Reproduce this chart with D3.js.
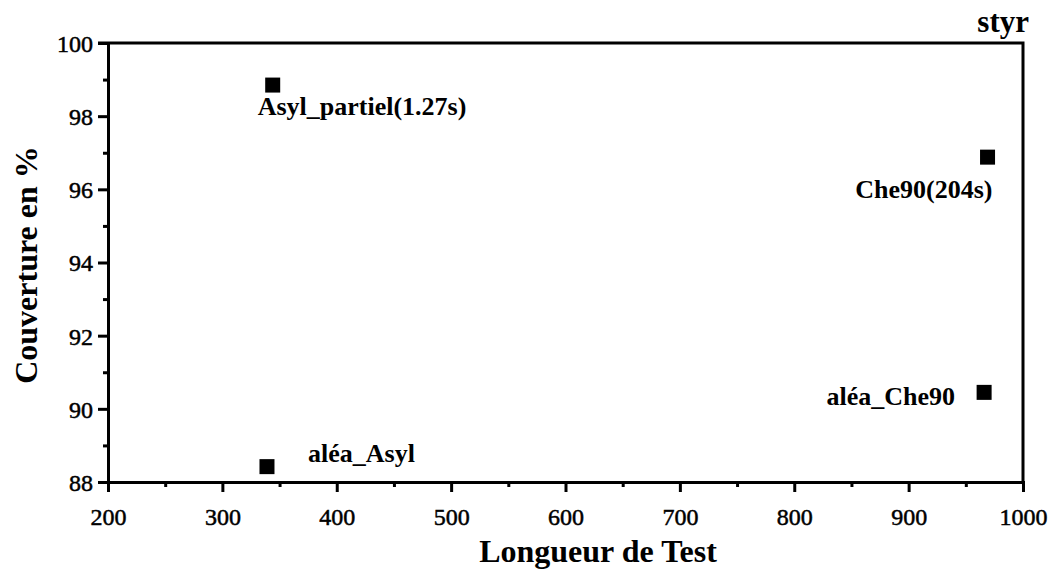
<!DOCTYPE html>
<html><head><meta charset="utf-8">
<script src="https://cdn.jsdelivr.net/npm/d3@7"></script>
<style>body{margin:0;background:#fff}svg{display:block}text{font-family:"Liberation Serif","Times New Roman",serif}</style>
</head><body><svg id="c" width="1055" height="570"></svg>
<script>
const names = ["Asyl_partiel(1.27s)", "Che90(204s)", "aléa_Che90", "aléa_Asyl"];
const xVals = [344, 969, 966, 339];
const yVals = [98.85, 96.88, 90.45, 88.42];
const xTicks = [200, 300, 400, 500, 600, 700, 800, 900, 1000];
const yTicks = [88, 90, 92, 94, 96, 98, 100];
const title = "styr";
const xTitle = "Longueur de Test";
const yTitle = "Couverture en %";

const svg = d3.select("#c");
const L = 108, R = 1023, T = 43, B = 482;
const x = d3.scaleLinear().domain([200, 1000]).range([L, R]);
const y = d3.scaleLinear().domain([88, 100]).range([B, T]);

// frame (top & right)
svg.append("path").attr("d", `M${L-10},${T}H${R}V${B}`).attr("fill","none").attr("stroke","#000").attr("stroke-width",3);

// x axis
const xa = svg.append("g").attr("transform",`translate(0,${B})`)
  .call(d3.axisBottom(x).tickValues(xTicks).tickSize(10).tickFormat(d3.format("d")));
const xm = svg.append("g").attr("transform",`translate(0,${B})`)
  .call(d3.axisBottom(x).tickValues(d3.range(250,1000,100)).tickSize(5).tickFormat(""));
// y axis
const ya = svg.append("g").attr("transform",`translate(${L},0)`)
  .call(d3.axisLeft(y).tickValues(yTicks).tickSize(10).tickFormat(d3.format("d")));
const ym = svg.append("g").attr("transform",`translate(${L},0)`)
  .call(d3.axisLeft(y).tickValues(d3.range(89,100,2)).tickSize(5).tickFormat(""));
[xa,xm,ya,ym].forEach(g=>{
  g.selectAll("path.domain").attr("stroke","#000").attr("stroke-width",3);
  g.selectAll(".tick line").attr("stroke","#000").attr("stroke-width",3);
  g.selectAll(".tick text").attr("fill","#000").attr("font-size",24)
   .attr("font-family","'Liberation Serif','Times New Roman',serif").attr("stroke","#000").attr("stroke-width",0.5);
});
xa.selectAll(".tick text").attr("dy","0").attr("y",43);
ya.selectAll(".tick text").attr("x",-15).attr("dy","0.35em");

// points
const S = 15;
svg.append("g").selectAll("rect").data(names).join("rect")
  .attr("x",(d,i)=>x(xVals[i])-S/2).attr("y",(d,i)=>y(yVals[i])-S/2)
  .attr("width",S).attr("height",S).attr("fill","#000");

// labels
const lab = [
  {dx:-15, dy:30, anchor:"start"},
  {dx:5, dy:41, anchor:"end"},
  {dx:-29, dy:13, anchor:"end"},
  {dx:41, dy:-5, anchor:"start"}
];
svg.append("g").selectAll("text").data(names).join("text")
  .attr("x",(d,i)=>x(xVals[i])+lab[i].dx).attr("y",(d,i)=>y(yVals[i])+lab[i].dy)
  .attr("text-anchor",(d,i)=>lab[i].anchor)
  .attr("font-size",26).attr("font-weight","bold").text(d=>d);

svg.append("text").attr("x",1029).attr("y",32).attr("text-anchor","end")
  .attr("font-size",31).attr("font-weight","bold").text(title);
svg.append("text").attr("x",598).attr("y",562).attr("text-anchor","middle")
  .attr("font-size",32).attr("font-weight","bold").text(xTitle);
svg.append("text").attr("transform",`translate(37,265) rotate(-90)`).attr("text-anchor","middle")
  .attr("font-size",32).attr("font-weight","bold").text(yTitle);
</script></body></html>
